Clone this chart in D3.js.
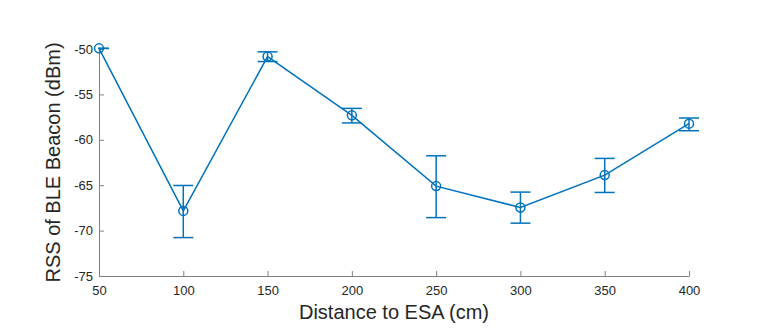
<!DOCTYPE html>
<html>
<head>
<meta charset="utf-8">
<script src="https://cdn.jsdelivr.net/npm/d3@7"></script>
<style>
  body { margin: 0; background: #fff; }
  svg text { font-family: "Liberation Sans", Arial, sans-serif; }
</style>
</head>
<body>
<div class="chart"></div>
<script>
const distances = [50, 100, 150, 200, 250, 300, 350, 400];
const rssMean  = [-49.93, -67.83, -50.83, -57.31, -65.10, -67.46, -63.89, -58.22];
const rssUpper = [-49.93, -65.03, -50.31, -56.54, -61.76, -65.76, -62.05, -57.60];
const rssLower = [-49.93, -70.77, -51.38, -58.14, -68.57, -69.18, -65.80, -59.00];
const xTicks = [50, 100, 150, 200, 250, 300, 350, 400];
const yTicks = [-75, -70, -65, -60, -55, -50];

const margin = {top: 49, right: 71, bottom: 56, left: 99},
    width = 760 - margin.left - margin.right,
    height = 332 - margin.top - margin.bottom;

const svg = d3.select(".chart")
  .append("svg")
    .attr("width", 760)
    .attr("height", 332)
  .append("g")
    .attr("transform", `translate(${margin.left},${margin.top})`);

const data = distances.map((d, i) => ({x: d, y: rssMean[i], hi: rssUpper[i], lo: rssLower[i]}));

const x = d3.scaleLinear().domain([50, 400]).range([0, width]);
const y = d3.scaleLinear().domain([-75, -50]).range([height, 0]);

const axisColor = "#808080";
const textColor = "#262626";

// x axis (ticks pointing inward, like matlab)
const xAxis = svg.append("g")
    .attr("transform", `translate(0,${height})`)
    .call(d3.axisBottom(x).tickValues(xTicks).tickFormat(d => String(d))
      .tickSizeInner(-5).tickSizeOuter(0).tickPadding(10));
// y axis
const yAxis = svg.append("g")
    .call(d3.axisLeft(y).tickValues(yTicks).tickFormat(d => String(d))
      .tickSizeInner(-5).tickSizeOuter(0).tickPadding(6));

[xAxis, yAxis].forEach(a => {
  a.select(".domain").attr("stroke", axisColor);
  a.selectAll(".tick line").attr("stroke", axisColor);
  a.selectAll(".tick text").attr("fill", textColor).style("font-size", "13px");
});

// axis labels
svg.append("text")
    .attr("x", width / 2)
    .attr("y", height + 43)
    .attr("text-anchor", "middle")
    .attr("fill", textColor)
    .style("font-size", "20px")
    .text("Distance to ESA (cm)");

svg.append("text")
    .attr("transform", `translate(-39,${height / 2}) rotate(-90)`)
    .attr("text-anchor", "middle")
    .attr("fill", textColor)
    .style("font-size", "20px")
    .text("RSS of BLE Beacon (dBm)");

const blue = "#0072BD";

svg.append("clipPath").attr("id", "clip")
  .append("rect").attr("x", -1).attr("y", -10).attr("width", width + 12).attr("height", height + 10);

// connecting line
svg.append("path")
    .datum(data)
    .attr("fill", "none")
    .attr("stroke", blue)
    .attr("stroke-width", 1.5)
    .attr("d", d3.line().x(d => x(d.x)).y(d => y(d.y)));

// error bars
const capW = 10;
const bars = svg.append("g").attr("clip-path", "url(#clip)")
  .selectAll(".err")
  .data(data)
  .join("g")
    .attr("stroke", blue)
    .attr("stroke-width", 1.5);

bars.append("line")
    .attr("x1", d => x(d.x)).attr("x2", d => x(d.x))
    .attr("y1", d => y(d.hi)).attr("y2", d => y(d.lo));
bars.append("line")
    .attr("x1", d => x(d.x) - capW).attr("x2", d => x(d.x) + capW)
    .attr("y1", d => y(d.hi)).attr("y2", d => y(d.hi));
bars.append("line")
    .attr("x1", d => x(d.x) - capW).attr("x2", d => x(d.x) + capW)
    .attr("y1", d => y(d.lo)).attr("y2", d => y(d.lo));

// circle markers
svg.selectAll(".pt")
  .data(data)
  .join("circle")
    .attr("cx", d => x(d.x))
    .attr("cy", d => y(d.y))
    .attr("r", 4.5)
    .attr("fill", "none")
    .attr("stroke", blue)
    .attr("stroke-width", 1.5);
</script>
</body>
</html>
